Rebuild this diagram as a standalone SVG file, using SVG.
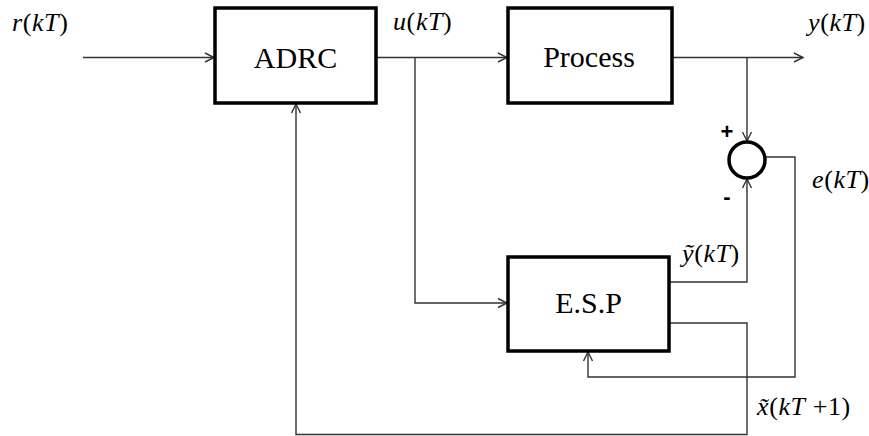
<svg xmlns="http://www.w3.org/2000/svg" width="869" height="436" viewBox="0 0 869 436">
<style>
.box{fill:#fff;stroke:#000;stroke-width:3.5}
.ln{fill:none;stroke:#333;stroke-width:1.4}
.blk{font-family:'Liberation Serif','Times New Roman',serif;font-size:30px;fill:#000;text-anchor:middle}
.lbl{font-family:'Liberation Serif','Times New Roman',serif;font-size:26px;fill:#000;letter-spacing:0.6px}
.it{font-style:italic}
.sg{font-family:'Liberation Sans',Arial,sans-serif;font-size:22px;font-weight:bold;fill:#000;text-anchor:middle}
</style>
<defs>
<marker id="ah" markerWidth="12" markerHeight="12" refX="10" refY="5" orient="auto" markerUnits="userSpaceOnUse" viewBox="0 0 12 10">
<path d="M1,0.5 L10,5 L1,9.5" fill="none" stroke="#333" stroke-width="1.4"/>
</marker>
</defs>
<rect width="869" height="436" fill="#fff"/>
<g id="connectors">
<path class="ln" d="M83,57.5 H214" marker-end="url(#ah)"/>
<path class="ln" d="M376,57.5 H507" marker-end="url(#ah)"/>
<path class="ln" d="M415,57.5 V303 H507" marker-end="url(#ah)"/>
<path class="ln" d="M672,57.5 H803" marker-end="url(#ah)"/>
<path class="ln" d="M747,57.5 V141" marker-end="url(#ah)"/>
<path class="ln" d="M669,282 H747 V179" marker-end="url(#ah)"/>
<path class="ln" d="M765,157 H795 V377 H588 V352" marker-end="url(#ah)"/>
<path class="ln" d="M669,323 H747 V434.5 H296 V104" marker-end="url(#ah)"/>
</g>
<g id="adrc">
<rect class="box" x="215" y="8" width="161" height="95"/>
<text class="blk" x="295.5" y="68">ADRC</text>
</g>
<g id="process">
<rect class="box" x="508" y="8" width="164" height="95"/>
<text class="blk" x="589" y="67">Process</text>
</g>
<g id="esp">
<rect class="box" x="508" y="257" width="161" height="94"/>
<text class="blk" x="588.5" y="313">E.S.P</text>
</g>
<g id="sum">
<circle cx="747" cy="160" r="18" fill="#fff" stroke="#000" stroke-width="3.5"/>
<text class="sg" x="727" y="139">+</text>
<text class="sg" x="727" y="204">-</text>
</g>
<g id="labels">
<text class="lbl" x="12" y="31"><tspan class="it">r</tspan>(<tspan class="it">kT</tspan>)</text>
<text class="lbl" x="393" y="30"><tspan class="it">u</tspan>(<tspan class="it">kT</tspan>)</text>
<text class="lbl" x="808" y="31"><tspan class="it">y</tspan>(<tspan class="it">kT</tspan>)</text>
<text class="lbl" x="812" y="188"><tspan class="it">e</tspan>(<tspan class="it">kT</tspan>)</text>
<text class="lbl" x="682" y="262"><tspan class="it">ỹ</tspan>(<tspan class="it">kT</tspan>)</text>
<text class="lbl" x="757" y="415"><tspan class="it">x̃</tspan>(<tspan class="it">kT</tspan> +1)</text>
</g>
</svg>
